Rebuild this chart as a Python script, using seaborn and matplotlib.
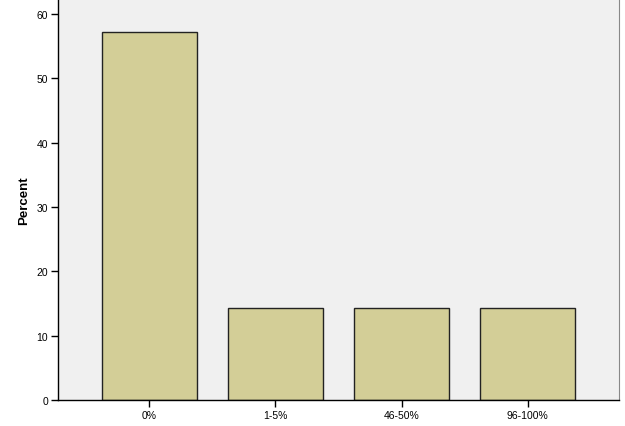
import numpy as np
import pandas as pd
import matplotlib
matplotlib.use('Agg')
import matplotlib.pyplot as plt
import seaborn as sns

# values
categories = ['0%', '1-5%', '46-50%', '96-100%']
percent = [57.14, 14.29, 14.29, 14.29]

df = pd.DataFrame({'cat': categories, 'pct': percent})

sns.set_style('white')
plt.rcParams['font.family'] = ['Liberation Sans', 'DejaVu Sans']

fig = plt.figure(figsize=(6.25, 4.27), dpi=100)
ax = fig.add_axes([58 / 625, 26 / 427, 561 / 625, 401 / 427])
ax.set_facecolor('#f0f0f0')

sns.barplot(x='cat', y='pct', data=df, ax=ax, color='#d3ce97', saturation=1,
            width=0.754, edgecolor='#222222', linewidth=1.0)

ax.set_xlim(-0.726, 3.726)
ax.set_ylim(0, 62.3)
ax.set_yticks([0, 10, 20, 30, 40, 50, 60])
ax.set_xlabel('')
ax.set_ylabel('Percent', fontsize=9.5, fontweight='bold', color='black', labelpad=5)
ax.tick_params(axis='both', direction='out', length=5, width=1, labelsize=7.5,
               colors='black', pad=2, left=True, bottom=True)

for s in ['left', 'bottom']:
    ax.spines[s].set_color('black')
    ax.spines[s].set_linewidth(1)
ax.spines['right'].set_color('#888888')
ax.spines['right'].set_linewidth(0.8)
ax.spines['top'].set_visible(False)

fig.savefig('out.png', dpi=100, facecolor='white')
